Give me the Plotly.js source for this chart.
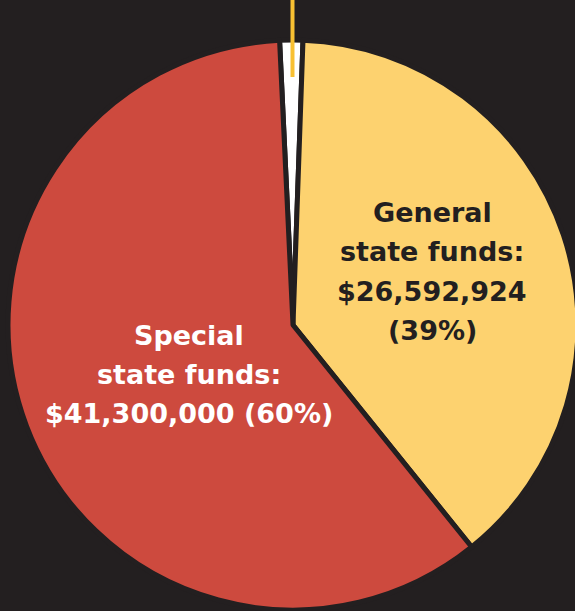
<!DOCTYPE html>
<html>
<head>
<meta charset="utf-8">
<script src="https://cdn.plot.ly/plotly-3.0.1.min.js"></script>
<style>
html, body { margin: 0; padding: 0; background: #231f20; overflow: hidden; }
#chart { width: 578px; height: 611px; }
</style>
</head>
<body>
<div id="chart"></div>
<script>
// Data
const categories = ["Other funds", "General state funds", "Special state funds"];
const values = [900000, 26592924, 41300000];
const sliceColors = ["#ffffff", "#fdd26f", "#cd4a3e"];
const generalLines = ["General", "state funds:", "$26,592,924", "(39%)"];
const specialLines = ["Special", "state funds:", "$41,300,000 (60%)"];

const BG = "#231f20";
const W = 578, H = 611;
const M = { l: 8, r: 0, t: 40, b: 1 };
const PW = W - M.l - M.r, PH = H - M.t - M.b;
const px = x => (x - M.l) / PW;
const py = y => (H - M.b - y) / PH;

const trace = {
  type: "pie",
  labels: categories,
  values: values,
  sort: false,
  direction: "clockwise",
  rotation: -2.7,
  textinfo: "none",
  hoverinfo: "label+value+percent",
  marker: { colors: sliceColors, line: { color: BG, width: 5 } },
  domain: { x: [0, 1], y: [0, 1] }
};

const FONT = "DejaVu Sans, sans-serif";
const FS = 27;
const annotations = [];
const gY = [212, 251, 291, 330];
generalLines.forEach((t, i) => annotations.push({
  xref: "paper", yref: "paper", x: px(432), y: py(gY[i]),
  xanchor: "center", yanchor: "middle", showarrow: false,
  text: "<b>" + t + "</b>", font: { family: FONT, size: FS, color: BG }
}));
const sY = [335, 374, 413];
specialLines.forEach((t, i) => annotations.push({
  xref: "paper", yref: "paper", x: px(189), y: py(sY[i]),
  xanchor: "center", yanchor: "middle", showarrow: false,
  text: "<b>" + t + "</b>", font: { family: FONT, size: FS, color: "#ffffff" }
}));

const layout = {
  width: W, height: H,
  margin: M,
  paper_bgcolor: BG, plot_bgcolor: BG,
  showlegend: false,
  annotations: annotations,
  shapes: [{
    type: "line", xref: "paper", yref: "paper", layer: "above",
    x0: px(292.5), x1: px(292.5), y0: py(0), y1: py(77),
    line: { color: "#f8c032", width: 4 }
  }]
};

Plotly.newPlot("chart", [trace], layout, { displayModeBar: false, staticPlot: true });
</script>
</body>
</html>
